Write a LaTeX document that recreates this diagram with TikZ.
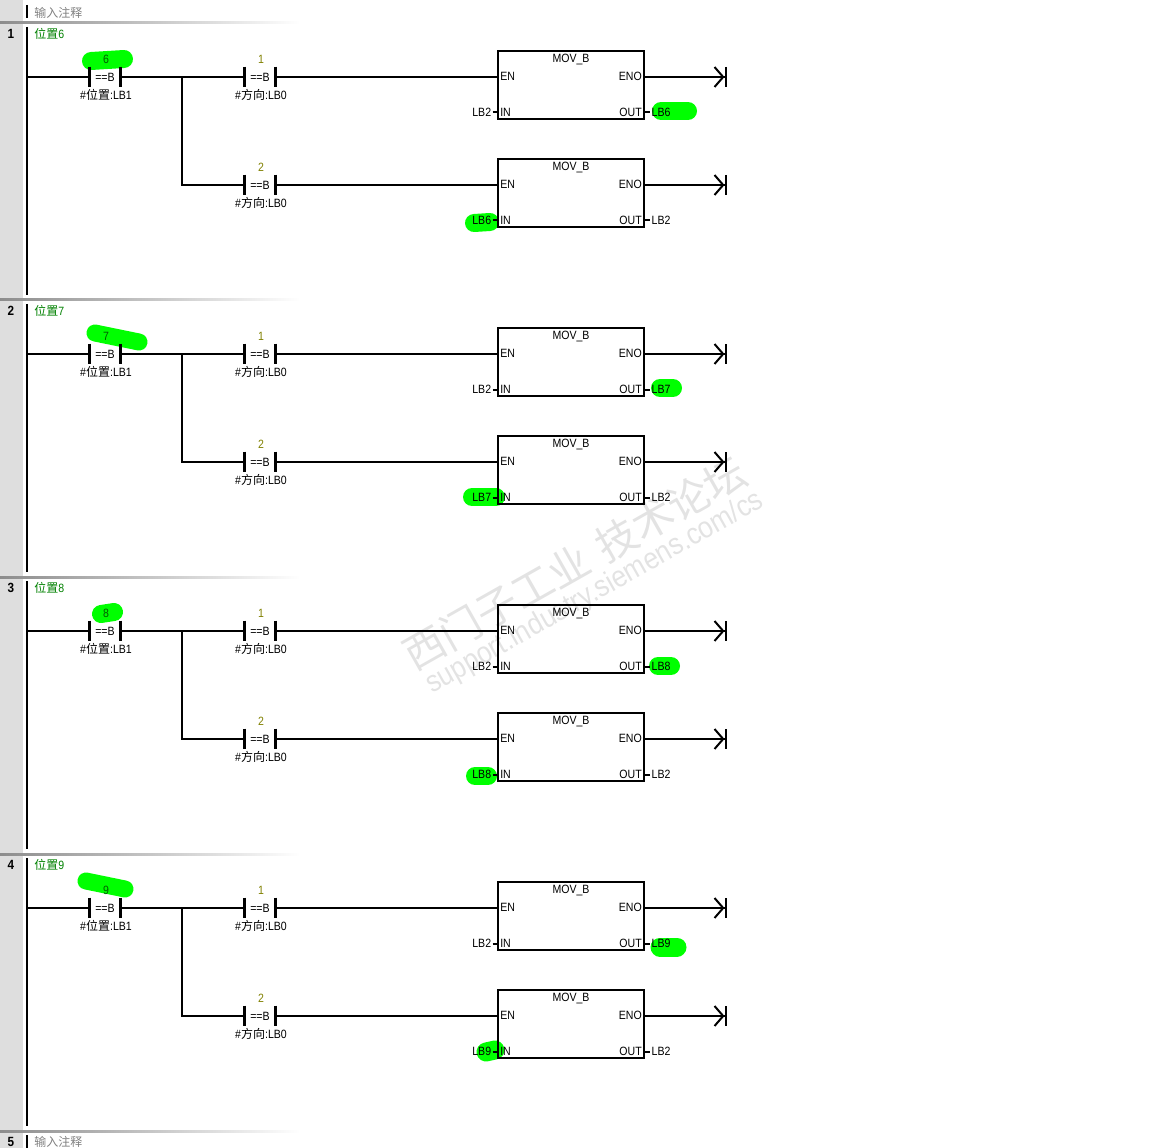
\documentclass[tikz,border=0pt]{standalone}
\usepackage{fontspec}
\setmainfont[FakeStretch=0.88]{Liberation Sans}
\newfontfamily\cjk{Noto Sans CJK SC}
\usepackage{tikz}
\usetikzlibrary{arrows.meta, positioning, calc}
\definecolor{valueolive}{HTML}{808000}
\definecolor{titlegreen}{HTML}{008000}
\definecolor{marker}{HTML}{00FF00}

\begin{document}
\begin{tikzpicture}[
    x=0.75pt,
    y=-0.75pt,
    font=\fontsize{9pt}{10pt}\selectfont,
    wire/.style={
        line width=1.5pt,
        draw=black
    },
    bar/.style={
        line width=2.25pt,
        draw=black
    },
    coilwire/.style={
        line width=1.5pt,
        draw=black,
        -{Straight Barb[length=6.5pt,width=15pt,line width=1.5pt]Bar[width=15pt,line width=1.5pt]}
    },
    contact/.style={
        rectangle,
        minimum width=23.25pt,
        minimum height=15pt,
        inner sep=0pt
    },
    movbox/.style={
        draw=black,
        rectangle,
        minimum width=109.5pt,
        minimum height=51pt,
        inner sep=0pt,
        line width=1.5pt
    },
    pin/.style={
        inner xsep=2.25pt,
        inner ysep=0pt
    },
    operand/.style={
        inner sep=0pt
    },
    marked/.style={
        line width=#1*0.75pt,
        draw=marker,
        line cap=round,
        preaction={draw=black!45, transform canvas={shift={(1.3pt,-1.3pt)}}}
    },
    remark/.style={
        inner sep=0pt,
        anchor=west,
        text=black!50
    },
    watermark/.style={
        inner sep=0pt,
        rotate=29.5,
        text=black!11
    }
]
\useasboundingbox (0,0) rectangle (1167,1148);

% ============================================================
% Left strip and the rung separators
% ============================================================

\fill[black!13] (0,0) rectangle (23,1148);

\foreach \n in {1,...,5} {
    \pgfmathsetmacro{\dy}{(\n-1)*277}
    \shade[left color=black!45, right color=white, shift={(0,\dy)}] (0,22) rectangle (300,24);
    \node[operand, font=\fontsize{10pt}{10pt}\selectfont\bfseries] (num\n) at (11,33.5+\dy) {\n};
}

\coordinate (railA) at (27,5);
\coordinate (railB) at (27,18);
\coordinate (railC) at (27,1135);
\coordinate (railD) at (27,1148);
\draw[wire] (railA) -- (railB);
\draw[wire] (railC) -- (railD);
\node[remark] (remarktop) at (34,12.5) {\cjk 输入注释};
\node[remark] (remarkend) at (34,1141.5) {\cjk 输入注释};

% ============================================================
% Watermark
% ============================================================

\node[watermark, font=\fontsize{31pt}{31pt}\selectfont\cjk] (wmtitle) at (575,563) {西门子工业\,\,技术论坛};
\node[watermark, font=\fontsize{22.5pt}{23pt}\selectfont] (wmsite) at (595,593) {support.industry.siemens.com/cs};

% ============================================================
% Hand-drawn markers, under the lines
% ============================================================

\draw[marked=18] (91,61) -- (124,59);
\draw[marked=18] (661,111) -- (688,111);
\draw[marked=18] (474,223) -- (490,222);
\draw[marked=17] (95,333) -- (139,342);
\draw[marked=18] (660,388) -- (673,388);
\draw[marked=18] (472,497) -- (496,497);
\draw[marked=18] (101,614) -- (114,612);
\draw[marked=18] (658,666) -- (671,666);
\draw[marked=18] (475,776) -- (488,776);
\draw[marked=17] (86,881) -- (125,889);
\draw[marked=19] (660,947) -- (677,947);
\draw[marked=19] (486,1052) -- (495,1050);

% ============================================================
% The four rungs
% ============================================================

\foreach \n/\p in {1/6,2/7,3/8,4/9} {
    \pgfmathsetmacro{\dy}{(\n-1)*277}
    \begin{scope}[shift={(0,\dy)}]
        \coordinate (rail\n) at (27,27);
        \coordinate (railend\n) at (27,295);
        \coordinate (fork\n) at (182,77);
        \coordinate (endA\n) at (726.5,77);
        \coordinate (endB\n) at (726.5,185);

        \node[operand, text=titlegreen, anchor=west] (title\n) at (34,34) {{\cjk 位置}\p};

        \node[contact] (pos\n)  at (105,77)  {==B};
        \node[contact] (dirA\n) at (260,77)  {==B};
        \node[contact] (dirB\n) at (260,185) {==B};

        \node[operand, text=titlegreen!70!black] (posval\n) at (106,59) {\p};
        \node[operand, text=valueolive] (dirAval\n) at (261,59)  {1};
        \node[operand, text=valueolive] (dirBval\n) at (261,167) {2};
        \node[operand] (posname\n)  at (106,95)  {\#{\cjk 位置}:LB1};
        \node[operand] (dirAname\n) at (261,95)  {\#{\cjk 方向}:LB0};
        \node[operand] (dirBname\n) at (261,203) {\#{\cjk 方向}:LB0};

        \node[movbox] (movA\n) at (571,85)  {};
        \node[movbox] (movB\n) at (571,193) {};

        \foreach \b in {A,B} {
            \node[operand, anchor=base] (head\b\n) at ($(mov\b\n.north)+(0,12.5)$) {MOV\_B};
            \node[pin, anchor=west] (en\b\n)  at ($(mov\b\n.west)+(0,-8.5)$) {EN};
            \node[pin, anchor=east] (eno\b\n) at ($(mov\b\n.east)+(0,-8.5)$) {ENO};
            \node[pin, anchor=west] (in\b\n)  at ($(mov\b\n.west)+(0,27.5)$) {IN};
            \node[pin, anchor=east] (out\b\n) at ($(mov\b\n.east)+(0,27.5)$) {OUT};
            \draw[coilwire] ($(mov\b\n.east)+(0,-8)$) -- (end\b\n);
        }

        \node[operand, left=4.2pt of inA\n.west]  (srcA\n) {LB2};
        \node[operand, right=4.8pt of outA\n.east] (dstA\n) {LB\p};
        \node[operand, left=4.2pt of inB\n.west]  (srcB\n) {LB\p};
        \node[operand, right=4.8pt of outB\n.east] (dstB\n) {LB2};

        \draw[wire] (rail\n) -- (railend\n);
        \draw[wire] (rail\n |- pos\n.west) -- (pos\n.west);
        \draw[wire] (pos\n.east) -- (dirA\n.west);
        \draw[wire] (fork\n) |- (dirB\n.west);
        \draw[wire] (dirA\n.east) -- (movA\n.west |- dirA\n.east);
        \draw[wire] (dirB\n.east) -- (movB\n.west |- dirB\n.east);

        \foreach \c in {pos\n,dirA\n,dirB\n} {
            \draw[bar] (\c.north west) -- (\c.south west);
            \draw[bar] (\c.north east) -- (\c.south east);
        }
        \foreach \b in {A,B} {
            \draw[wire] (src\b\n.east) ++(1pt,0) -- (in\b\n.west);
            \draw[wire] (out\b\n.east) -- ++(3.7pt,0);
        }
    \end{scope}
}
\end{tikzpicture}
\end{document}
